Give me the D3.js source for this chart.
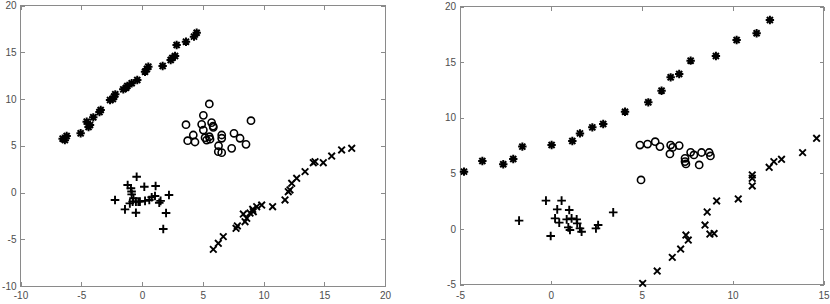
<!DOCTYPE html>
<html>
<head>
<meta charset="utf-8">
<script src="https://cdn.jsdelivr.net/npm/d3@7"></script>
<style>
  html, body { margin: 0; padding: 0; background: #fff; }
  svg { display: block; }
  .tick text { font-family: "Liberation Sans", Arial, sans-serif; font-size: 10px; fill: #4d4d4d; }
</style>
</head>
<body>
<svg id="chart" width="830" height="304"></svg>
<script>
// ---------- Data (left panel) ----------
const leftStarX = [-6.53,-6.35,-6.20,-5.05,-4.55,-4.28,-4.40,-4.01,-3.40,-3.50,-2.63,-2.40,-2.30,-2.20,-1.54,-1.30,-1.21,-0.85,-0.39,0.25,0.40,0.52,1.70,2.36,2.50,2.72,2.85,3.62,4.28,4.50];
const leftStarY = [5.76,5.60,6.04,6.33,7.58,7.22,7.00,8.04,8.82,8.60,9.89,10.00,10.25,10.50,11.03,11.20,11.39,11.68,12.03,12.92,13.20,13.46,13.53,14.17,14.40,14.60,15.78,16.13,16.67,17.09];

const leftCircleX = [5.54,3.62,5.05,4.91,5.73,5.87,4.22,3.76,4.36,5.19,5.54,5.32,5.05,6.56,6.56,6.30,6.28,6.56,7.38,7.57,8.07,8.56,8.97,5.85,5.60];
const leftCircleY = [9.47,7.25,8.25,7.29,7.47,6.97,6.15,5.54,5.40,5.86,5.97,5.61,6.68,6.15,5.80,5.00,4.37,4.26,4.72,6.33,5.80,5.15,7.68,7.10,5.70];

const leftPlusX = [-0.44,-1.18,-0.91,-0.86,0.19,1.12,-2.22,-1.00,-0.77,-0.50,-0.30,-0.17,-1.40,-0.50,0.60,0.80,1.07,1.42,1.53,2.22,1.98,1.75,0.25,-0.70,-0.85];
const leftPlusY = [1.69,0.80,0.45,0.10,0.62,0.69,-0.80,-1.16,-0.98,-0.98,-0.98,-0.98,-1.80,-2.16,-0.80,-0.50,-0.37,-1.09,-0.90,-0.27,-2.20,-3.90,-0.90,-0.60,-0.20];

const leftCrossX = [5.87,6.28,6.69,7.74,7.85,8.48,8.34,8.62,8.89,9.11,9.16,9.44,9.85,10.75,11.77,12.04,12.18,12.32,12.73,13.42,14.10,14.24,14.92,15.61,16.43,17.26];
const leftCrossY = [-6.08,-5.43,-4.72,-3.83,-3.58,-3.12,-2.30,-2.76,-2.20,-1.80,-2.05,-1.52,-1.34,-1.52,-0.80,0.09,0.27,0.98,1.52,2.23,3.19,3.30,3.19,3.90,4.55,4.73];

// ---------- Data (right panel) ----------
const rightStarX = [-4.78,-3.77,-2.62,-2.07,-1.57,0.04,1.18,1.60,2.28,2.88,4.08,5.36,6.09,6.59,7.06,7.69,9.08,10.22,11.32,12.05];
const rightStarY = [5.15,6.11,5.81,6.29,7.40,7.54,7.90,8.59,9.13,9.43,10.54,11.38,12.43,13.63,13.93,15.13,15.55,16.99,17.59,18.79];

const rightCircleX = [4.90,5.32,5.74,6.00,6.59,6.70,7.06,6.55,7.38,7.38,7.43,7.69,7.87,8.29,8.71,8.78,8.16,4.96];
const rightCircleY = [7.54,7.63,7.84,7.40,7.54,7.33,7.49,6.74,6.35,6.05,5.84,6.89,6.65,6.87,6.87,6.56,5.75,4.40];

const rightPlusX = [-1.75,-0.27,0.59,0.35,1.01,0.23,0.46,0.87,1.14,1.42,1.45,0.96,1.05,1.60,1.69,-0.01,2.48,2.60,3.43];
const rightPlusY = [0.74,2.54,2.54,1.76,1.70,0.95,0.56,0.86,0.95,0.86,0.50,0.14,-0.10,0.05,-0.25,-0.64,0.05,0.35,1.49];

const rightCrossX = [5.05,5.85,6.68,7.14,7.43,7.56,8.48,8.60,8.75,8.98,9.12,10.31,11.08,11.08,11.08,12.01,12.27,12.69,13.85,14.62];
const rightCrossY = [-4.90,-3.79,-2.56,-1.81,-0.55,-1.00,0.35,1.52,-0.46,-0.42,2.51,2.69,4.85,4.55,3.86,5.54,6.05,6.26,6.86,8.15];

// ---------- Tick labels ----------
const leftXTicks = [-10,-5,0,5,10,15,20];
const leftYTicks = [-10,-5,0,5,10,15,20];
const rightXTicks = [-5,0,5,10,15];
const rightYTicks = [-5,0,5,10,15,20];

// ---------- Drawing ----------
const svg = d3.select("#chart");
svg.append("rect").attr("width", 830).attr("height", 304).attr("fill", "#fff");

const AXIS_COLOR = "#8a8a8a";

function zip(xs, ys) { return xs.map((v, i) => [v, ys[i]]); }

const markerPaths = {
  star: r => {
    const d = r * 0.72;
    return `M${-r},0L${r},0M0,${-r}L0,${r}M${-d},${-d}L${d},${d}M${-d},${d}L${d},${-d}`;
  },
  plus: r => `M${-r},0L${r},0M0,${-r}L0,${r}`,
  cross: r => `M${-r},${-r}L${r},${r}M${-r},${r}L${r},${-r}`
};

function panel(cfg) {
  const x = d3.scaleLinear().domain(cfg.xDomain).range(cfg.xRange);
  const y = d3.scaleLinear().domain(cfg.yDomain).range(cfg.yRange);
  const g = svg.append("g");

  // Box
  g.append("rect")
    .attr("x", cfg.xRange[0]).attr("y", cfg.yRange[1])
    .attr("width", cfg.xRange[1] - cfg.xRange[0])
    .attr("height", cfg.yRange[0] - cfg.yRange[1])
    .attr("fill", "none").attr("stroke", AXIS_COLOR).attr("stroke-width", 1)
    .attr("shape-rendering", "crispEdges");

  const styleAxis = sel => {
    sel.select(".domain").remove();
    sel.selectAll(".tick line").attr("stroke", AXIS_COLOR).attr("shape-rendering", "crispEdges");
  };

  g.append("g").attr("transform", `translate(0,${cfg.yRange[0]})`)
    .call(d3.axisBottom(x).tickValues(cfg.xTicks).tickSize(-4).tickPadding(cfg.xPad).tickFormat(d3.format("d")))
    .call(styleAxis);
  g.append("g").attr("transform", `translate(0,${cfg.yRange[1]})`)
    .call(d3.axisTop(x).tickValues(cfg.xTicks).tickSize(-4).tickFormat(""))
    .call(styleAxis);
  g.append("g").attr("transform", `translate(${cfg.xRange[0]},0)`)
    .call(d3.axisLeft(y).tickValues(cfg.yTicks).tickSize(-4).tickPadding(4).tickFormat(d3.format("d")))
    .call(styleAxis);
  g.append("g").attr("transform", `translate(${cfg.xRange[1]},0)`)
    .call(d3.axisRight(y).tickValues(cfg.yTicks).tickSize(-4).tickFormat(""))
    .call(styleAxis);

  g.selectAll(".tick text").text(function () { return this.textContent.replace("−", "-"); });

  // Series
  cfg.series.forEach(s => {
    const pts = zip(s.x, s.y);
    if (s.type === "circle") {
      g.append("g").selectAll("circle").data(pts).join("circle")
        .attr("cx", d => x(d[0])).attr("cy", d => y(d[1]))
        .attr("r", 3.6).attr("fill", "none").attr("stroke", "#000").attr("stroke-width", 1.6);
    } else {
      const r = s.type === "star" ? 4.2 : (s.type === "plus" ? 4.3 : 3.3);
      g.append("g").selectAll("path").data(pts).join("path")
        .attr("transform", d => `translate(${x(d[0])},${y(d[1])})`)
        .attr("d", markerPaths[s.type](r))
        .attr("fill", "none").attr("stroke", "#000")
        .attr("stroke-width", s.type === "star" ? 2.0 : 1.9);
    }
  });
}

panel({
  xDomain: [-10, 20], yDomain: [-10, 20],
  xRange: [20.5, 385], yRange: [286, 5.5],
  xTicks: leftXTicks, yTicks: leftYTicks, xPad: 6,
  series: [
    { type: "star", x: leftStarX, y: leftStarY },
    { type: "circle", x: leftCircleX, y: leftCircleY },
    { type: "plus", x: leftPlusX, y: leftPlusY },
    { type: "cross", x: leftCrossX, y: leftCrossY }
  ]
});

panel({
  xDomain: [-5, 15], yDomain: [-5, 20],
  xRange: [460, 823.5], yRange: [284.5, 6.5],
  xTicks: rightXTicks, yTicks: rightYTicks, xPad: 7,
  series: [
    { type: "star", x: rightStarX, y: rightStarY },
    { type: "circle", x: rightCircleX, y: rightCircleY },
    { type: "plus", x: rightPlusX, y: rightPlusY },
    { type: "cross", x: rightCrossX, y: rightCrossY }
  ]
});
</script>
</body>
</html>
